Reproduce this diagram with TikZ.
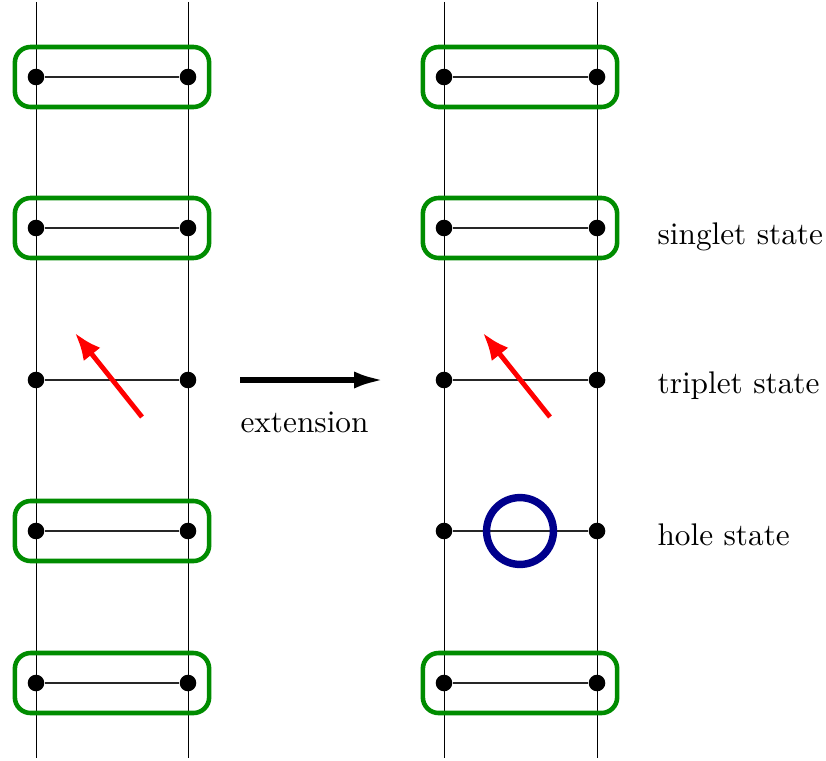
\documentclass[tikz,border=0pt]{standalone}
\usetikzlibrary{arrows.meta}
\definecolor{pairgreen}{RGB}{0,140,0}
\definecolor{holeblue}{RGB}{0,0,140}
\begin{document}
\begin{tikzpicture}[x=0.35pt,y=-0.35pt,
  font=\fontsize{10.95pt}{13pt}\selectfont,
  site/.style={circle,fill=black,inner sep=0pt,minimum size=5.8pt},
  rail/.style={line width=0.35pt},
  rung/.style={line width=0.4pt,black!85},
  pairbox/.style={draw=pairgreen,line width=1.6pt,rounded corners=5.5pt,
    minimum width=68pt,minimum height=21pt,inner sep=0pt},
  spin/.style={draw=red,line width=1.7pt,-{Latex[length=9.5pt,width=7.5pt]}},
  lbl/.style={anchor=base west,inner sep=0pt}]
\useasboundingbox (0,0) rectangle (826,760);
% rails of both ladders
\foreach \lad/\xa/\xb in {L/36/188,R/444/597}{
  \coordinate (\lad at) at (\xa,2);
  \coordinate (\lad ab) at (\xa,758);
  \coordinate (\lad bt) at (\xb,2);
  \coordinate (\lad bb) at (\xb,758);
  \draw[rail] (\lad at) -- (\lad ab);
  \draw[rail] (\lad bt) -- (\lad bb);
  \foreach \i/\y in {1/77,2/228,3/380,4/531,5/683}{
    \node[site] (\lad a\i) at (\xa,\y) {};
    \node[site] (\lad b\i) at (\xb,\y) {};
    \draw[rung] (\lad a\i) -- (\lad b\i);
  }
}
% singlet pairs
\foreach \lad/\xc in {L/112,R/520}{
  \foreach \i/\y in {1/77,2/228,5/683}{
    \node[pairbox] (\lad p\i) at (\xc,\y) {};
  }
}
\node[pairbox] (Lp4) at (112,531) {};
% hole
\node[draw=holeblue,line width=2.6pt,circle,minimum size=23.4pt,inner sep=0pt] (hole) at (520,531) {};
% triplet spins
\coordinate (Ls0) at (142,417);
\coordinate (Ls1) at (75,333);
\draw[spin] (Ls0) -- (Ls1);
\coordinate (Rs0) at (550,417);
\coordinate (Rs1) at (483,333);
\draw[spin] (Rs0) -- (Rs1);
% extension arrow
\coordinate (e0) at (240,380);
\coordinate (e1) at (384,380);
\draw[line width=1.9pt,-{Latex[length=10.5pt,width=6pt]}] (e0) -- (e1);
\node[lbl] (ext) at (240,432) {extension};
% labels
\node[lbl] (sing) at (657,244) {singlet state};
\node[lbl] (trip) at (657,393) {triplet state};
\node[lbl] (hol) at (657,545) {hole state};
\end{tikzpicture}
\end{document}
